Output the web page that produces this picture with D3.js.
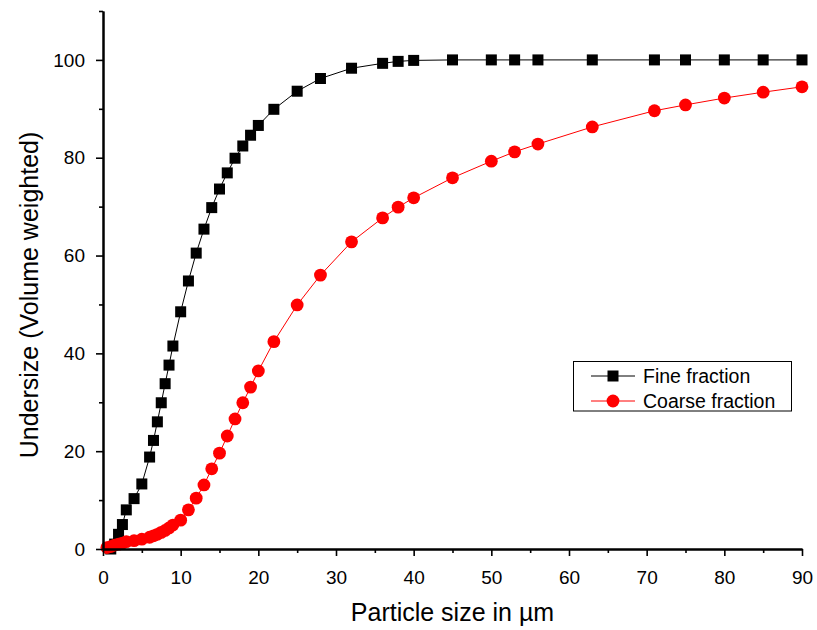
<!DOCTYPE html>
<html>
<head>
<meta charset="utf-8">
<script src="https://cdn.jsdelivr.net/npm/d3@7"></script>
<style>
  html, body { margin: 0; padding: 0; background: #fff; }
  svg { display: block; font-family: "Liberation Sans", Arial, sans-serif; }
</style>
</head>
<body>
<svg id="chart" width="817" height="630"></svg>
<script>
// Particle size grid (µm) shared by both fractions
const fineSizes = [1, 1.5, 2, 2.5, 3, 4, 5, 6, 6.5, 7, 7.5, 8, 8.5, 9, 10, 11, 12, 13, 14, 15, 16, 17, 18, 19, 20,
  22, 25, 28, 32, 36, 38, 40, 45, 50, 53, 56, 63, 71, 75, 80, 85, 90];
const fineUndersize = [0, 1.0, 3.0, 5.0, 8.0, 10.3, 13.3, 18.8, 22.2, 26.0, 29.9, 33.8, 37.6, 41.5, 48.5, 54.8, 60.5, 65.4, 69.8, 73.6, 76.9, 79.9, 82.4, 84.6, 86.6,
  89.9, 93.6, 96.2, 98.3, 99.3, 99.7, 99.9, 100, 100, 100, 100, 100, 100, 100, 100, 100, 100];

const coarseSizes = [0.5, 1, 1.5, 2, 2.5, 3, 4, 5, 6, 6.5, 7, 7.5, 8, 8.5, 9, 10, 11, 12, 13, 14, 15, 16, 17, 18, 19, 20,
  22, 25, 28, 32, 36, 38, 40, 45, 50, 53, 56, 63, 71, 75, 80, 85, 90];
const coarseUndersize = [0.3, 0.5, 0.8, 1.0, 1.2, 1.5, 1.7, 2.0, 2.4, 2.7, 3.0, 3.4, 3.8, 4.3, 4.9, 5.9, 8.0, 10.4, 13.1, 16.4, 19.6, 23.1, 26.6, 29.9, 33.1, 36.4,
  42.4, 49.9, 56.0, 62.8, 67.7, 69.9, 71.8, 75.9, 79.3, 81.2, 82.8, 86.3, 89.6, 90.8, 92.2, 93.4, 94.5];

const xMajorTicks = [0, 10, 20, 30, 40, 50, 60, 70, 80, 90];
const xMinorTicks = [5, 15, 25, 35, 45, 55, 65, 75, 85];
const yMajorTicks = [0, 20, 40, 60, 80, 100];
const yMinorTicks = [10, 30, 50, 70, 90, 110];

const seriesNames = ["Fine fraction", "Coarse fraction"];
const seriesColors = ["#000000", "#ff0000"];

const FONT = "'Liberation Sans', Arial, sans-serif";
const svg = d3.select("#chart");
const plotLeft = 103, plotRight = 802, plotTop = 11, plotBottom = 549;

const x = d3.scaleLinear().domain([0, 90]).range([plotLeft, plotRight]);
const y = d3.scaleLinear().domain([0, 110]).range([plotBottom, plotTop]);

// Series lines and markers
const series = [
  { name: seriesNames[0], color: seriesColors[0], shape: "square",
    pts: fineSizes.map((d, i) => [d, fineUndersize[i]]) },
  { name: seriesNames[1], color: seriesColors[1], shape: "circle",
    pts: coarseSizes.map((d, i) => [d, coarseUndersize[i]]) }
];

const line = d3.line().x(d => x(d[0])).y(d => y(d[1]));

function drawMarker(g, shape, color, cx, cy) {
  if (shape === "square") {
    g.append("rect").attr("x", cx - 5.5).attr("y", cy - 5.5)
      .attr("width", 11).attr("height", 11).attr("fill", color);
  } else {
    g.append("circle").attr("cx", cx).attr("cy", cy).attr("r", 6.4).attr("fill", color);
  }
}

series.forEach(s => {
  const g = svg.append("g");
  g.append("path").datum(s.pts).attr("d", line)
    .attr("fill", "none").attr("stroke", s.color).attr("stroke-width", 1);
  s.pts.forEach(p => drawMarker(g, s.shape, s.color, x(p[0]), y(p[1])));
});

// Axes
const xAxis = d3.axisBottom(x).tickValues(xMajorTicks).tickSize(7).tickSizeOuter(0).tickPadding(15);
const xMinor = d3.axisBottom(x).tickValues(xMinorTicks).tickSize(4).tickSizeOuter(0).tickFormat("");
const yAxis = d3.axisLeft(y).tickValues(yMajorTicks).tickSize(7).tickSizeOuter(0).tickPadding(11);
const yMinor = d3.axisLeft(y).tickValues(yMinorTicks).tickSize(4).tickSizeOuter(0).tickFormat("");

function styleAxis(g) {
  g.select(".domain").attr("stroke", "#000").attr("stroke-width", 2);
  g.selectAll(".tick line").attr("stroke", "#000").attr("stroke-width", 1.6);
  g.selectAll(".tick text").attr("fill", "#000").style("font-size", "19px")
    .style("font-family", FONT);
}

svg.append("g").attr("transform", `translate(0,${plotBottom})`).call(xMinor).call(styleAxis);
svg.append("g").attr("transform", `translate(0,${plotBottom})`).call(xAxis).call(styleAxis);
svg.append("g").attr("transform", `translate(${plotLeft},0)`).call(yMinor).call(styleAxis);
svg.append("g").attr("transform", `translate(${plotLeft},0)`).call(yAxis).call(styleAxis);

// Axis titles
svg.append("text").attr("x", (plotLeft + plotRight) / 2).attr("y", 621)
  .attr("text-anchor", "middle").style("font-size", "25px").style("font-family", FONT)
  .attr("fill", "#000").text("Particle size in µm");

svg.append("text").attr("transform", "translate(38,295) rotate(-90)")
  .attr("text-anchor", "middle").style("font-size", "25px").style("font-family", FONT)
  .attr("fill", "#000").text("Undersize (Volume weighted)");

// Legend
const legend = svg.append("g");
legend.append("rect").attr("x", 573.5).attr("y", 361.5).attr("width", 218).attr("height", 49.5)
  .attr("fill", "#fff").attr("stroke", "#000").attr("stroke-width", 1);
series.forEach((s, i) => {
  const cy = 376 + i * 25;
  legend.append("line").attr("x1", 591).attr("x2", 635).attr("y1", cy).attr("y2", cy)
    .attr("stroke", s.color).attr("stroke-width", 1);
  drawMarker(legend, s.shape, s.color, 613, cy);
  legend.append("text").attr("x", 643).attr("y", cy + 6.5)
    .style("font-size", "19.5px").style("font-family", FONT).attr("fill", "#000").text(s.name);
});
</script>
</body>
</html>
